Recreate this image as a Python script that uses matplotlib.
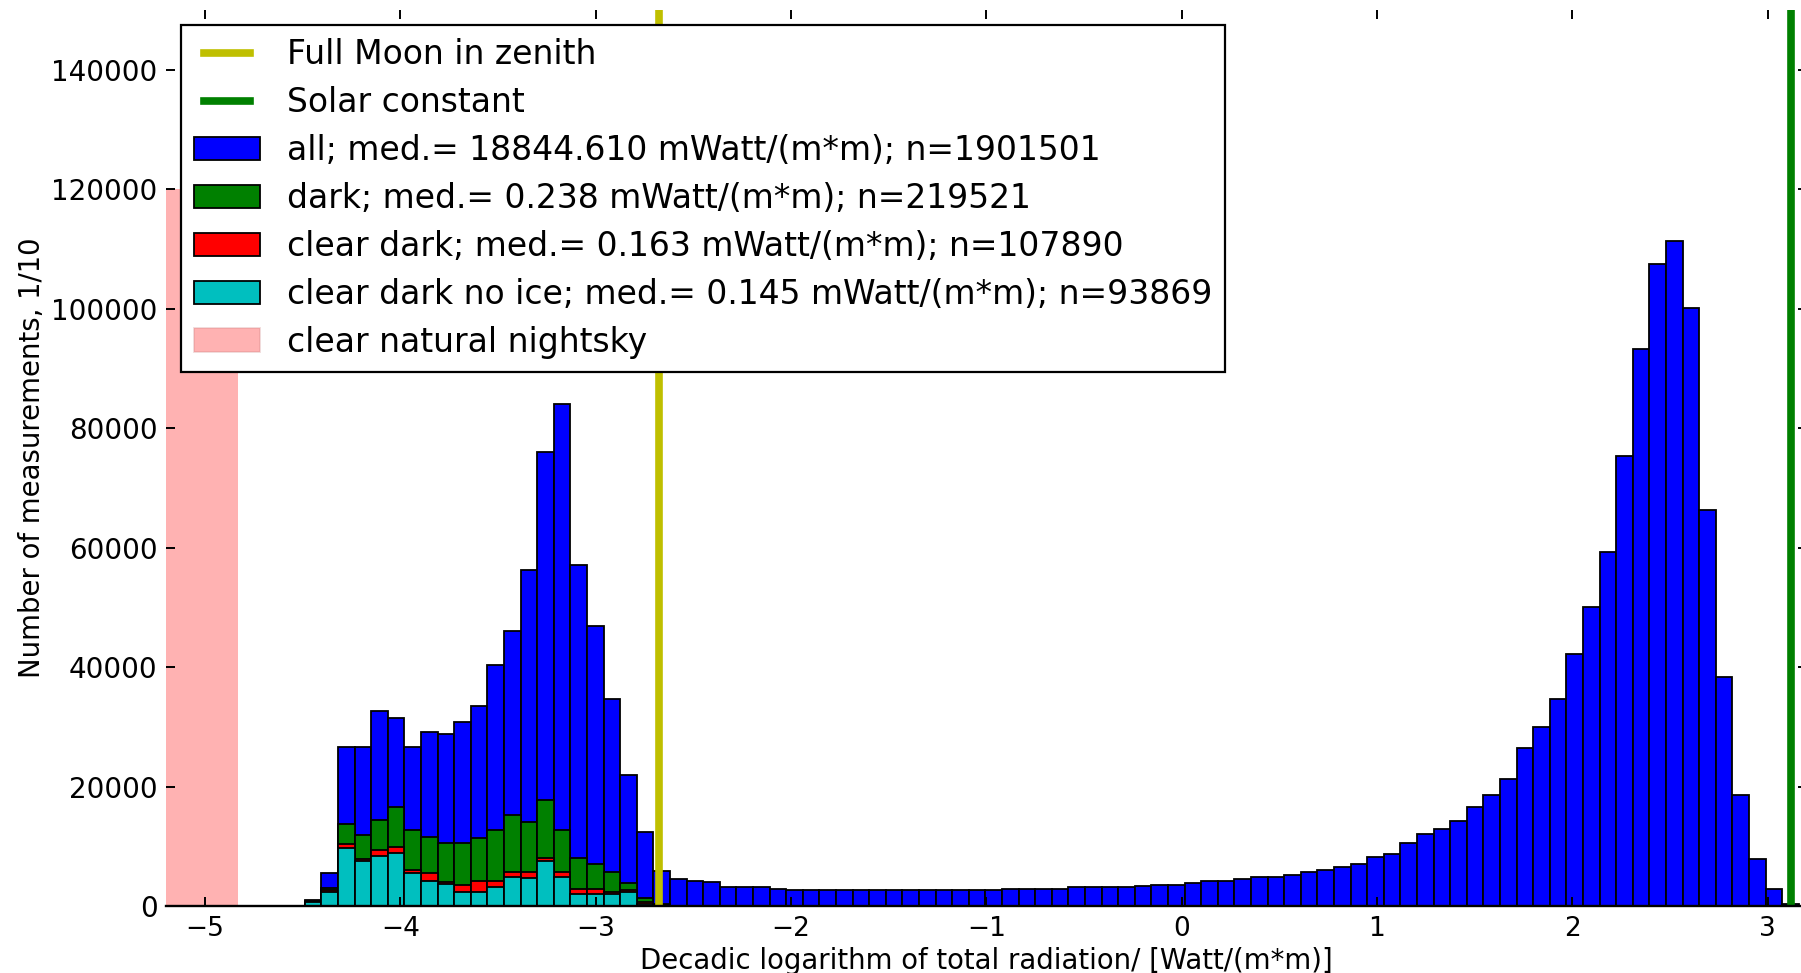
import numpy as np
import matplotlib
matplotlib.use("Agg")
import matplotlib.pyplot as plt

# histogram bins (decadic log of W/m^2)
bin_edges = np.linspace(-4.49, 3.16, 91)

# counts per bin, 1/10 of measurements
all_counts = [
    1000, 5500, 26600, 26600, 32700, 31400, 26600, 29100, 28800, 30800,
    33500, 40300, 46000, 56200, 76000, 84100, 57100, 46800, 34600, 22000,
    12400, 5800, 4500, 4100, 4000, 3200, 3200, 3100, 2800, 2700,
    2700, 2700, 2700, 2650, 2700, 2700, 2700, 2700, 2700, 2700,
    2700, 2700, 2800, 2800, 2800, 2900, 3100, 3100, 3100, 3200,
    3300, 3500, 3500, 3900, 4100, 4100, 4500, 4800, 4900, 5250,
    5750, 6100, 6600, 7100, 8250, 8700, 10500, 12000, 12850, 14300,
    16500, 18500, 21300, 26500, 29900, 34700, 42200, 50000, 59300, 75300,
    93300, 107500, 111300, 100200, 66300, 38300, 18500, 7900, 2800, 400,
]
dark_counts = [800, 3000, 13700, 11900, 14400, 16500, 12700, 11500, 10600, 10500, 11300,
               12700, 15300, 14100, 17700, 12700, 8000, 7000, 5750, 3800, 1300, 300]
clear_dark_counts = [700, 2700, 10400, 7900, 9300, 9800, 6000, 5600, 4000, 3500, 4100,
                     4100, 5750, 5750, 8000, 5750, 2800, 2800, 2300, 2600, 600, 100]
no_ice_counts = [600, 2400, 9700, 7500, 8400, 8800, 5500, 4200, 3700, 2400, 2400,
                 3100, 4900, 4600, 7500, 4900, 2000, 2000, 2000, 2400, 400, 50]

labels = ["all; med.= 18844.610 mWatt/(m*m); n=1901501",
          "dark; med.= 0.238 mWatt/(m*m); n=219521",
          "clear dark; med.= 0.163 mWatt/(m*m); n=107890",
          "clear dark no ice; med.= 0.145 mWatt/(m*m); n=93869"]
colors = ['b', 'g', 'r', 'c']

full_moon = -2.676
solar_const = 3.12
nightsky_lo, nightsky_hi, nightsky_top = -5.2, -4.83, 120000

fig = plt.figure(figsize=(18.01, 9.73), dpi=100)
ax = fig.add_axes([0.0922, 0.0689, 0.9109, 0.9206])

centers = 0.5 * (bin_edges[:-1] + bin_edges[1:])
handles = []
for counts, col, lab in zip([all_counts, dark_counts, clear_dark_counts, no_ice_counts], colors, labels):
    n = len(counts)
    _, _, patches = ax.hist(centers[:n], bins=bin_edges[:n + 1], weights=counts,
                            color=col, edgecolor='k', linewidth=1.3, label=lab)
    handles.append(patches[0])

night = ax.bar(nightsky_lo, nightsky_top, width=nightsky_hi - nightsky_lo, align='edge',
               color='r', alpha=0.3, linewidth=0, label='clear natural nightsky')

l1 = ax.axvline(full_moon, color='y', lw=5.5, label='Full Moon in zenith')
l2 = ax.axvline(solar_const, color='g', lw=5.5, label='Solar constant')

ax.set_xlim(-5.2, 3.2)
ax.set_ylim(0, 150000)
ax.set_xticks(range(-5, 4))
ax.set_yticks(range(0, 150000, 20000))

for s in ['top', 'left', 'right']:
    ax.spines[s].set_visible(False)
ax.spines['bottom'].set_linewidth(1.7)
ax.tick_params(direction='in', top=True, right=True, length=6.5, width=1.4,
               labelsize=19, pad=7)
ax.tick_params(axis='y', labelsize=20, pad=6)

ax.set_xlabel("Decadic logarithm of total radiation/ [Watt/(m*m)]", fontsize=19.8, labelpad=3.7)
ax.set_ylabel("Number of measurements, 1/10", fontsize=19.8, labelpad=4)

leg = ax.legend([l1, l2] + handles + [night[0]],
                ['Full Moon in zenith', 'Solar constant'] + labels + ['clear natural nightsky'],
                loc='upper left', fontsize=23.8, fancybox=False, framealpha=1, numpoints=2,
                edgecolor='k', handlelength=2.0, handleheight=0.7, labelspacing=0.45,
                borderpad=0.4, handletextpad=0.8, borderaxespad=0.45)
leg.get_frame().set_linewidth(1.6)
leg.legend_handles[-1].set_edgecolor((0.8, 0.5, 0.5))
leg.legend_handles[-1].set_linewidth(1.3)

fig.savefig("out.png", dpi=100)
